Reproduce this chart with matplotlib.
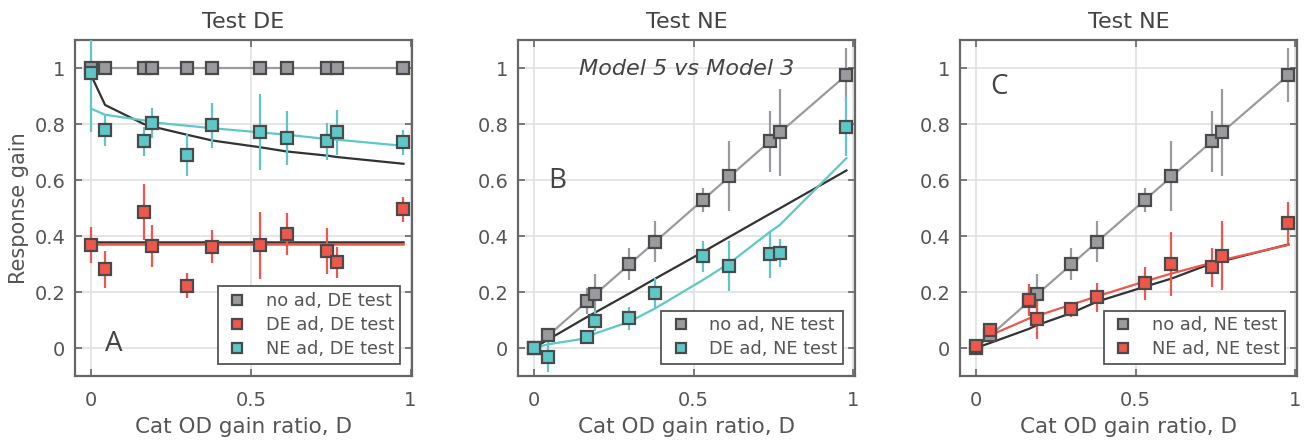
import numpy as np
import matplotlib
matplotlib.use('Agg')
import matplotlib.pyplot as plt

# ---- data ----
D = [0.0, 0.044, 0.165, 0.192, 0.299, 0.38, 0.529, 0.612, 0.74, 0.77, 0.978]

# panel A: DE test
a_noad = [1.0] * 11
a_de = [0.367, 0.281, 0.486, 0.365, 0.223, 0.362, 0.367, 0.408, 0.348, 0.306, 0.496]
a_de_err = [0.064, 0.067, 0.100, 0.075, 0.045, 0.060, 0.120, 0.075, 0.082, 0.055, 0.045]
a_ne = [0.982, 0.777, 0.738, 0.803, 0.689, 0.795, 0.772, 0.750, 0.739, 0.770, 0.735]
a_ne_err = [0.21, 0.055, 0.053, 0.054, 0.076, 0.080, 0.136, 0.098, 0.066, 0.079, 0.045]
a_fit_black_curve = [0.975, 0.868, 0.800, 0.791, 0.762, 0.741, 0.717, 0.702, 0.687, 0.682, 0.658]
a_fit_ne = [0.855, 0.833, 0.813, 0.806, 0.794, 0.785, 0.770, 0.762, 0.746, 0.744, 0.722]
a_fit_black_flat = [0.378] * 11
a_fit_de = [0.372] * 11

# panels B and C: NE test, no adaptation (same data in both)
ne_noad = [0.0, 0.046, 0.168, 0.193, 0.299, 0.380, 0.528, 0.613, 0.738, 0.770, 0.975]
ne_noad_err = [0.0, 0.01, 0.047, 0.070, 0.057, 0.072, 0.043, 0.125, 0.108, 0.154, 0.095]
ne_noad_fit = [0.0, 0.044, 0.165, 0.192, 0.299, 0.380, 0.529, 0.612, 0.740, 0.770, 0.975]

# panel B: DE adaptation
b_de = [0.0, -0.031, 0.038, 0.098, 0.106, 0.195, 0.327, 0.293, 0.335, 0.338, 0.791]
b_de_err = [0.0, 0.054, 0.020, 0.036, 0.042, 0.054, 0.054, 0.088, 0.084, 0.050, 0.107]
b_fit_black = [0.0, 0.030, 0.110, 0.127, 0.195, 0.248, 0.343, 0.397, 0.480, 0.499, 0.634]
b_fit_de = [0.0, 0.013, 0.035, 0.052, 0.094, 0.142, 0.243, 0.303, 0.416, 0.440, 0.678]

# panel C: NE adaptation
c_ne = [0.008, 0.064, 0.172, 0.102, 0.138, 0.181, 0.231, 0.300, 0.288, 0.329, 0.448]
c_ne_err = [0.01, 0.01, 0.057, 0.070, 0.026, 0.052, 0.060, 0.116, 0.069, 0.123, 0.073]
c_fit_black = [0.0, 0.018, 0.068, 0.082, 0.125, 0.166, 0.219, 0.248, 0.303, 0.310, 0.370]
c_fit_ne = [0.005, 0.045, 0.105, 0.115, 0.155, 0.185, 0.238, 0.266, 0.305, 0.314, 0.368]

GRAY = '#9b9b9f'
RED = '#f0574b'
TEAL = '#5ec8c9'
BLACK = '#333333'
EDGE = '#4a4a4a'
TXT = '#555555'

plt.rcParams['font.family'] = ['DejaVu Sans']
plt.rcParams['text.color'] = TXT
plt.rcParams['axes.labelcolor'] = TXT
plt.rcParams['xtick.color'] = TXT
plt.rcParams['ytick.color'] = TXT

fig = plt.figure(figsize=(13.12, 4.48), dpi=100)
lefts = [0.0572, 0.3948, 0.7317]
axes = [fig.add_axes([l, 0.1607, 0.2569, 0.75]) for l in lefts]


def points(ax, y, err, color, label):
    ax.errorbar(D, y, yerr=err, fmt='none', ecolor=color, elinewidth=1.6, zorder=3)
    ax.plot(D, y, 's', ms=8, mfc=color, mec=EDGE, mew=1.6, zorder=4, label=label)


def style(ax, title, letter, lpos):
    ax.set_xlim(-0.05, 1.005)
    ax.set_ylim(-0.1, 1.1)
    ax.set_xticks([0, 0.5, 1])
    ax.set_xticklabels(['0', '0.5', '1'])
    ax.set_yticks([0, 0.2, 0.4, 0.6, 0.8, 1])
    ax.set_yticklabels(['0', '0.2', '0.4', '0.6', '0.8', '1'])
    ax.grid(True, color='#e3e3e3', linewidth=1.3)
    ax.set_axisbelow(True)
    ax.tick_params(direction='in', length=5, width=1.2, labelsize=14,
                   top=True, right=True, color='#666666')
    ax.tick_params(axis='x', pad=11)
    ax.tick_params(axis='y', pad=7)
    for s in ax.spines.values():
        s.set_color('#666666')
        s.set_linewidth(1.6)
    ax.set_title(title, fontsize=16, color='#444444', pad=9)
    ax.set_xlabel('Cat OD gain ratio, D', fontsize=15.5, labelpad=5)
    ax.text(lpos[0], lpos[1], letter, transform=ax.transAxes, fontsize=20,
            family=['Open Sans', 'DejaVu Sans'], color='#444444')


def legend(ax):
    leg = ax.legend(loc='lower right', fontsize=12.8, frameon=True, fancybox=False,
                    edgecolor='#555555', borderpad=0.3, handletextpad=0.8,
                    labelspacing=0.35, handlelength=1.6, borderaxespad=0.7,
                    markerscale=0.85)
    leg.get_frame().set_linewidth(1.3)
    leg.get_frame().set_alpha(1)


# panel A
ax = axes[0]
ax.plot(D, a_noad, color=GRAY, lw=1.6, zorder=2)
ax.plot(D, a_fit_black_curve, color=BLACK, lw=1.6, zorder=2)
ax.plot(D, a_fit_ne, color=TEAL, lw=1.6, zorder=2)
ax.plot(D, a_fit_black_flat, color=BLACK, lw=1.8, zorder=2)
ax.plot(D, a_fit_de, color=RED, lw=1.8, zorder=2)
points(ax, a_noad, None, GRAY, 'no ad, DE test')
points(ax, a_de, a_de_err, RED, 'DE ad, DE test')
points(ax, a_ne, a_ne_err, TEAL, 'NE ad, DE test')
style(ax, 'Test DE', 'A', (0.09, 0.075))
ax.set_ylabel('Response gain', fontsize=15, labelpad=4)
legend(ax)

# panel B
ax = axes[1]
ax.plot(D, ne_noad_fit, color=GRAY, lw=1.6, zorder=2)
ax.plot(D, b_fit_black, color=BLACK, lw=1.6, zorder=2)
ax.plot(D, b_fit_de, color=TEAL, lw=1.6, zorder=2)
points(ax, ne_noad, ne_noad_err, GRAY, 'no ad, NE test')
points(ax, b_de, b_de_err, TEAL, 'DE ad, NE test')
style(ax, 'Test NE', 'B', (0.09, 0.56))
ax.text(0.5, 0.895, 'Model 5 vs Model 3', transform=ax.transAxes, fontsize=16,
        style='italic', ha='center', color='#444444')
legend(ax)

# panel C
ax = axes[2]
ax.plot(D, ne_noad_fit, color=GRAY, lw=1.6, zorder=2)
ax.plot(D, c_fit_black, color=BLACK, lw=1.6, zorder=2)
ax.plot(D, c_fit_ne, color=RED, lw=1.6, zorder=2)
points(ax, ne_noad, ne_noad_err, GRAY, 'no ad, NE test')
points(ax, c_ne, c_ne_err, RED, 'NE ad, NE test')
style(ax, 'Test NE', 'C', (0.09, 0.84))
legend(ax)

fig.savefig('out.png', dpi=100)
